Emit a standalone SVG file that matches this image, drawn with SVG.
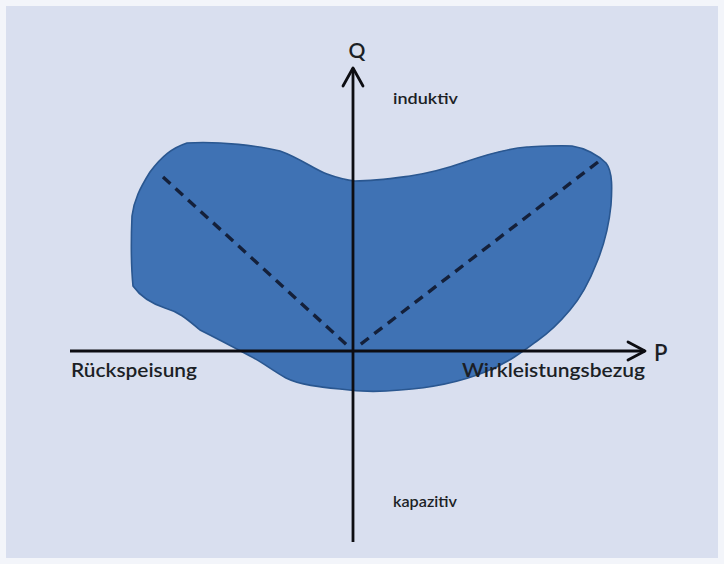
<svg xmlns="http://www.w3.org/2000/svg" width="724" height="564" viewBox="0 0 724 564">
  <style>
    .axis { stroke: #0d0d12; stroke-width: 2.8; fill: none; }
    .head { stroke: #0d0d12; stroke-width: 2.8; fill: none; stroke-linecap: round; stroke-linejoin: round; }
    .dash { stroke: #14203a; stroke-width: 3.4; stroke-dasharray: 10 7; fill: none; }
    .lbl { font-family: Lato, "Open Sans", "Liberation Sans", sans-serif; fill: #1c1f26; font-weight: 600; }
  </style>
  <rect x="0" y="0" width="724" height="564" fill="#f3f5fa"/>
  <rect x="6" y="6" width="712" height="552" fill="#d9dfef"/>

  <g id="region">
    <path d="M187,143 C220,141 260,146 280,151 C300,158 315,170 327,174 C338,178 345,180 355,181 C375,181 395,178 410,176 C430,173 448,168 465,162 C485,155 505,149 527,147 C545,146 560,145 572,146 C585,148 598,155 606,163 C613,172 612,190 611,205 C609,225 604,245 597,262 C590,280 583,295 570,310 C560,322 550,332 537,341 C525,350 510,362 485,372 C460,382 430,388 400,390 C380,392 360,392 340,389 C320,387 300,385 286,378 C272,370 262,362 250,356 C235,348 220,340 200,330 C190,322 182,313 165,308 C150,303 140,296 133,286 C131,265 131,240 132,216 C134,200 140,188 150,172 C162,156 172,148 187,143 Z" fill="#3f72b4" stroke="#2a5790" stroke-width="1.6"/>
  </g>

  <g id="connectors">
    <line class="dash" x1="163" y1="177" x2="349" y2="347"/>
    <line class="dash" x1="598" y1="162" x2="357" y2="347"/>
    <line class="axis" x1="353" y1="68" x2="353" y2="542"/>
    <line class="axis" x1="70" y1="351" x2="645" y2="351"/>
    <polyline class="head" points="343,86 353,68 363,86"/>
    <polyline class="head" points="628,342 645,351 628,360"/>
  </g>

  <g id="label-Q"><text class="lbl" x="357" y="58" font-size="21" text-anchor="middle">Q</text></g>
  <g id="label-P"><text class="lbl" x="654" y="361" font-size="22">P</text></g>
  <g id="label-induktiv"><text class="lbl" x="393" y="104" font-size="15.5" textLength="65" lengthAdjust="spacingAndGlyphs">induktiv</text></g>
  <g id="label-kapazitiv"><text class="lbl" x="393" y="507" font-size="15.5" textLength="64" lengthAdjust="spacingAndGlyphs">kapazitiv</text></g>
  <g id="label-rueckspeisung"><text class="lbl" x="71" y="377" font-size="19.5" textLength="126" lengthAdjust="spacingAndGlyphs">Rückspeisung</text></g>
  <g id="label-wirkleistungsbezug"><text class="lbl" x="462" y="377" font-size="19.5" textLength="183" lengthAdjust="spacingAndGlyphs">Wirkleistungsbezug</text></g>
</svg>
